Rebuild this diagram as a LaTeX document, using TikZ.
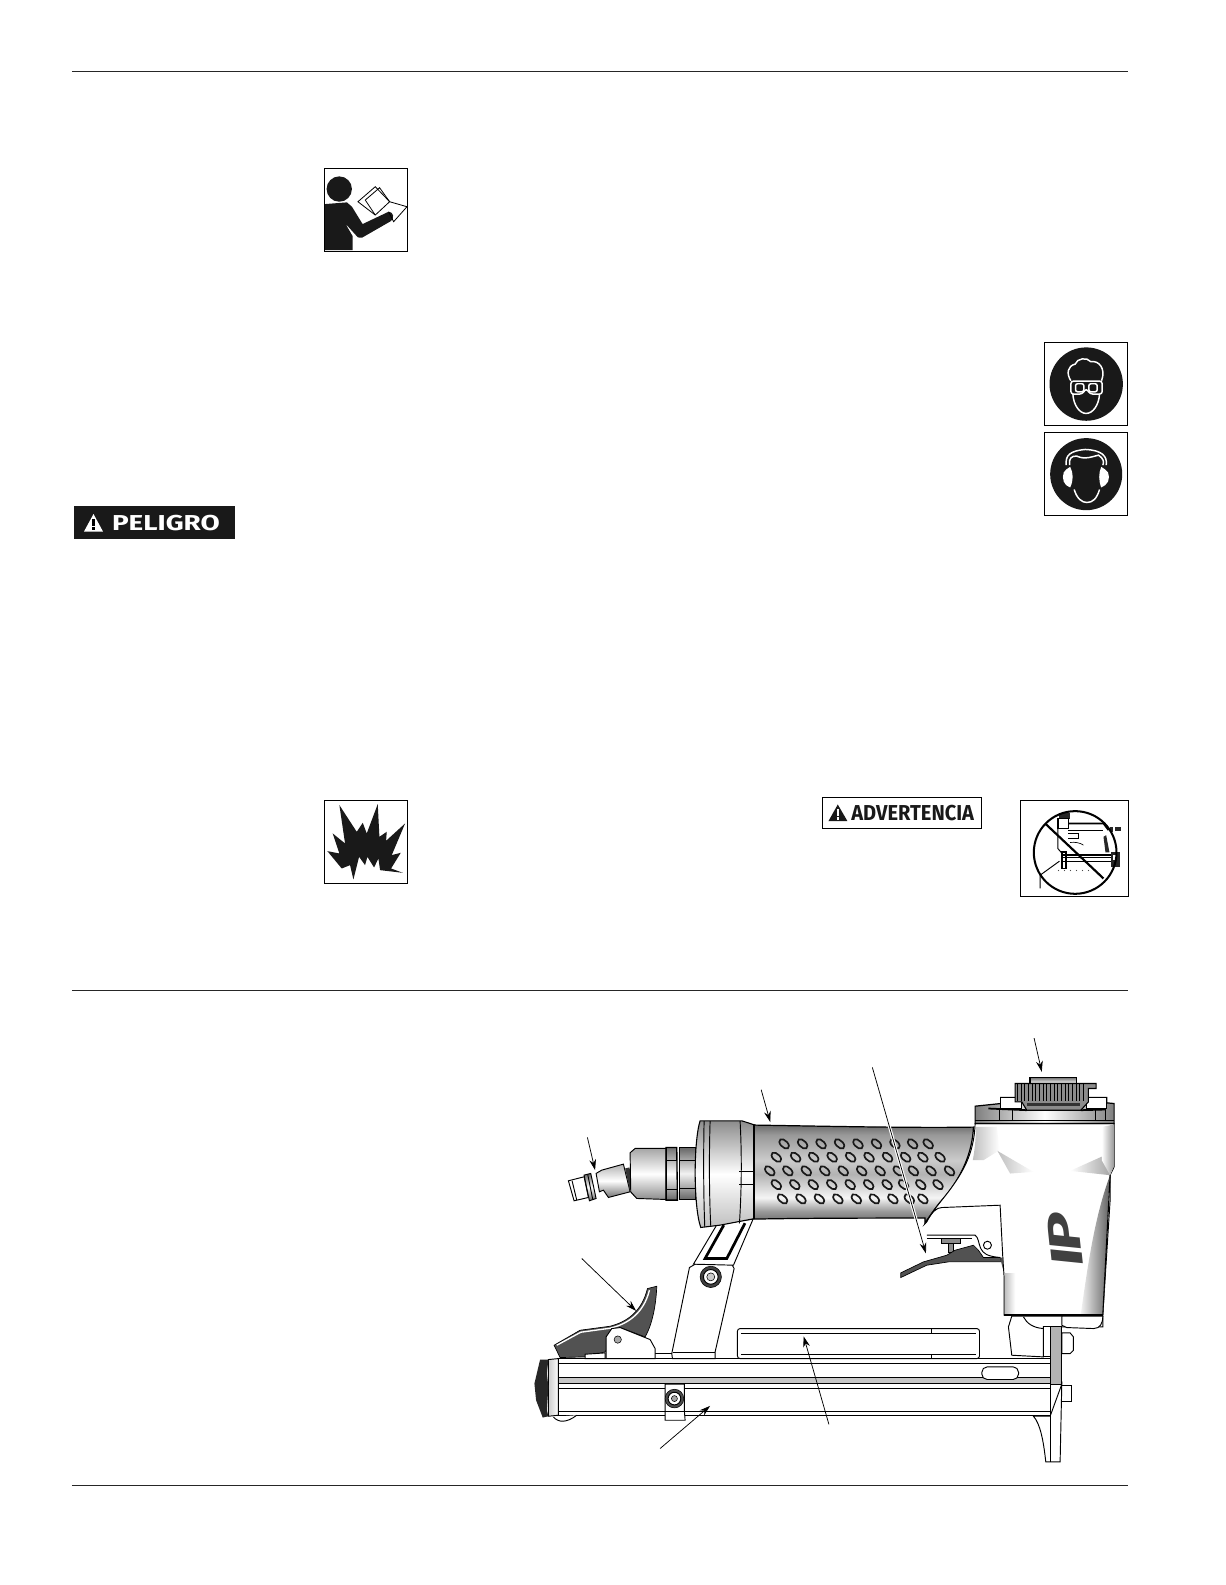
\documentclass[tikz,border=0pt]{standalone}
\usepackage{fontspec}
\setmainfont{Fira Sans}
\usetikzlibrary{arrows.meta}
\pgfdeclareverticalshading{gripshade}{100bp}{
    color(0bp)=(black!60);
    color(25bp)=(black!60);
    color(31bp)=(black!40);
    color(38bp)=(black!4);
    color(50bp)=(black!30);
    color(57bp)=(black!20);
    color(70bp)=(black!40);
    color(75bp)=(black!58);
    color(100bp)=(black!58)
}
\tikzset{
    pageRule/.style={line width=0.7pt, draw=black!85},
    iconBox/.style={draw=black, line width=0.7pt, fill=white},
    iconLine/.style={draw=white, line width=1.1pt},
    cropScale/.style={scale=0.3298},
    leader/.style={-{Stealth[length=8pt,width=5pt]}, line width=0.55pt},
    gunLine/.style={draw=black, line width=0.7pt},
    gunThick/.style={draw=black, line width=1.3pt},
    gunPart/.style={draw=black, line width=0.7pt, fill=white},
    gunDark/.style={draw=black, line width=0.5pt, fill=black!68},
    gripHole/.style={draw=black!90, line width=1.25pt}
}
\begin{document}
\begin{tikzpicture}[x=0.75pt,y=-0.75pt]
\useasboundingbox (0,0) rectangle (1212,1568);
\draw[pageRule] (71,71) -- (1116,71);
\draw[pageRule] (71,980) -- (1116,980);
\draw[pageRule] (71,1470) -- (1116,1470);

% reading icon
\begin{scope}[shift={(59.4,148.4)},scale=0.33]
    \draw[iconBox] (793,55) rectangle (1043,304);
    \fill[black!90] (837,117) circle (38);
    \fill[black!90] (795,162) -- (860,157) -- (875,170) -- (907,222) -- (985,185)
        .. controls (1000,185) and (1003,205) .. (992,213) -- (905,263) -- (893,262)
        -- (855,220) -- (877,258) -- (877,300) -- (795,300) -- cycle;
    \draw[draw=black, line width=0.6pt] (945,195) -- (893,155) -- (945,110) -- (988,155)
        -- (1040,170) -- (1000,215) -- (985,185);
    \draw[draw=black, line width=0.6pt] (945,195) -- (915,150) -- (958,113) -- (988,155) -- (945,195);
\end{scope}

% danger tag
\fill[black!90] (73,501) rectangle (232,533);
\fill[white] (83,526) -- (92.5,508.5) -- (102,526) -- cycle;
\fill[black] (91.5,513) rectangle (93.5,520);
\fill[black] (91.5,521.5) rectangle (93.5,524);
\node[text=white, font=\fontsize{16}{16}\selectfont\bfseries, anchor=west, inner sep=0pt, xscale=1.29, transform shape] (dangerText) at (110.5,517.8) {PELIGRO};

% goggles and ear icons
\begin{scope}[shift={(1019.1,326.5)},scale=0.33]
    \draw[iconBox] (43,37) rectangle (293,287);
    \fill[black!90] (168,162) circle (110);
    \draw[iconLine] (122,152) .. controls (108,130) and (112,108) .. (135,102)
        .. controls (140,85) and (170,80) .. (182,95) .. controls (205,90) and (228,115) .. (214,152);
    \draw[iconLine] (128,192) .. controls (130,225) and (148,250) .. (168,250)
        .. controls (188,250) and (206,225) .. (208,192);
    \draw[iconLine, rounded corners=2pt] (122,153) -- (216,153) -- (216,192) -- (180,192) -- (168,175) -- (156,192) -- (122,192) -- cycle;
    \draw[iconLine, rounded corners=1.5pt] (136,161) rectangle (161,185);
    \draw[iconLine, rounded corners=1.5pt] (176,161) rectangle (201,185);
    \draw[iconBox] (43,307) rectangle (293,557);
    \fill[black!90] (168,432) circle (108);
    \draw[iconLine] (108,405) .. controls (105,375) and (120,362) .. (165,358) .. controls (215,360) and (232,378) .. (228,405);
    \draw[iconLine] (118,405) .. controls (115,385) and (125,376) .. (140,378)
        .. controls (165,390) and (190,378) .. (205,375) .. controls (220,385) and (222,395) .. (218,405);
    \draw[iconLine] (132,478) .. controls (140,505) and (155,517) .. (170,517) .. controls (188,517) and (200,505) .. (208,478);
    \fill[white] (108,418) .. controls (95,425) and (95,455) .. (108,465) -- (120,472)
        .. controls (130,450) and (130,430) .. (120,410) -- cycle;
    \fill[white] (225,418) .. controls (240,425) and (240,455) .. (225,465) -- (213,472)
        .. controls (205,450) and (205,430) .. (213,410) -- cycle;
\end{scope}

% explosion icon
\begin{scope}[shift={(306.7,781.6)},scale=0.33]
    \draw[iconBox] (43,32) rectangle (293,280);
    \fill[black!90] (52,183) -- (88,190) -- (68,130) -- (105,160) -- (88,45) -- (140,125)
        -- (158,98) -- (170,130) -- (203,42) -- (208,140) -- (230,125) -- (228,152)
        -- (285,100) -- (245,195) -- (272,188) -- (243,235) -- (278,248) -- (210,240)
        -- (205,205) -- (192,232) -- (172,200) -- (165,225) -- (147,200) -- (130,268)
        -- (120,225) -- (95,235) -- cycle;
\end{scope}

% warning tag
\begin{scope}[shift={(791.5,776.7)},scale=0.33]
    \draw[iconBox] (67,37) rectangle (545,131);
    \fill[black!90] (85,108) -- (113,58) -- (142,108) -- cycle;
    \fill[white] (110,72) rectangle (116,92);
    \fill[white] (110,96) rectangle (116,104);
\end{scope}
\node[font=\fontsize{16}{16}\selectfont\bfseries, text=black!90, anchor=west, inner sep=0pt, xscale=0.93, transform shape] (warningText) at (842,804.5) {ADVERTENCIA};

% crossed out tool
\begin{scope}[shift={(1009.2,786.6)},cropScale]
    \draw[iconBox] (0,15) rectangle (325,305);
    \fill[black!85] (118,55) rectangle (150,72);
    \draw[gunThick] (113,70) rectangle (145,100);
    \draw[gunLine] (113,100) -- (113,160) -- (130,180);
    \draw[gunThick] (145,85) -- (250,85) -- (265,105);
    \draw[gunLine] (145,105) -- (250,105);
    \fill[black!85] (270,96) rectangle (280,110);
    \fill[black!85] (285,96) rectangle (303,108);
    \draw[gunLine] (145,115) -- (175,115) -- (175,130) -- (145,130);
    \draw[draw=black, line width=0.5pt] (150,142) .. controls (165,140) and (180,143) .. (190,150);
    \fill[black!85] (250,125) -- (258,120) -- (268,172) -- (256,172) -- cycle;
    \draw[gunThick] (130,180) -- (275,180);
    \draw[gunLine] (130,188) -- (275,188) (130,200) -- (275,200);
    \fill[black!85] (272,170) rectangle (300,215);
    \fill[white] (280,180) rectangle (290,195);
    \draw[gunThick] (125,170) rectangle (137,220);
    \draw[gunLine] (60,280) -- (60,240) -- (118,198);
    \foreach \dotx in {115,133,...,205}
        \fill[black!70] (\dotx,226) circle (1.8);
    \draw[draw=black, line width=1.5pt] (165,172) circle (124);
    \draw[draw=black, line width=1.6pt] (75,85) -- (250,250);
\end{scope}

% magazine rail
\draw[gunPart] (552.4,1344) rectangle (1039,1400);
\fill[black!22] (552.4,1363) rectangle (1039,1369);
\draw[gunLine] (552.4,1349) -- (1039,1349);
\draw[gunLine] (552.4,1363) -- (1039,1363);
\draw[gunLine] (552.4,1369) -- (1039,1369);
\draw[gunLine] (552.4,1374) -- (1039,1374);
\draw[gunLine] (552.4,1396) -- (1039,1396);
\draw[gunPart, rounded corners=4pt] (971.3,1352.2) rectangle (1007.6,1364.7);
% staple window
\draw[gunPart, rounded corners=2pt] (729.5,1314.3) rectangle (969,1344);
\draw[gunLine] (733,1319.2) -- (966,1319.2);
\draw[gunLine] (733,1339.7) -- (966,1339.7);
\draw[gunLine] (921.8,1314.3) -- (921.8,1319.2) (921.8,1339.7) -- (921.8,1344);

% latch, bracket and front of rail
\begin{scope}[shift={(524.4,1226.9)},cropScale]
    \shade[left color=black!20, right color=white, draw=black, line width=0.7pt] (55,358) -- (85,355) -- (85,525) -- (55,528) -- cycle;
    \fill[black!85] (30,358) -- (55,358) -- (50,400) -- (55,440) -- (50,510) -- (55,528) -- (38,532)
        -- (18,480) -- (13,430) -- cycle;
    \draw[gunPart] (70,530) .. controls (85,548) and (110,548) .. (140,525);
    \draw[gunPart] (405,432) -- (463,432) -- (463,515) -- (465,540) -- (405,540) -- cycle;
    \draw[gunLine] (405,515) -- (463,515);
    \fill[black!70, draw=black] (433,475) circle (28);
    \draw[gunPart] (433,475) circle (19);
    \fill[black!35, draw=black] (433,475) circle (9);
    \draw[gunPart] (478,82) -- (425,340) -- (427,355) -- (555,355) -- (555,335) -- (612,85) -- (605,72) -- (495,72) -- cycle;
    \draw[gunLine] (428,337) -- (555,337);
    \fill[black!75, draw=black] (542,110) circle (32);
    \draw[gunPart] (542,110) circle (22);
    \fill[black!20, draw=black] (542,110) circle (12);
    \draw[gunLine] (375,340) -- (425,340);
    \draw[gunDark] (72,315) -- (150,270) -- (240,258) .. controls (290,245) and (335,215) .. (352,145)
        -- (380,138) .. controls (378,190) and (368,250) .. (345,290) -- (270,262)
        -- (225,335) -- (165,350) -- (90,352) -- cycle;
    \draw[draw=white, line width=1pt] (80,315) -- (152,276) -- (240,264) .. controls (290,252) and (340,222) .. (358,150);
    \draw[gunPart] (165,342) -- (225,338) -- (225,355) -- (165,355) -- cycle;
    \draw[gunPart] (228,355) -- (228,290) -- (245,265) -- (270,262) -- (360,298) -- (375,325) -- (375,355) -- cycle;
    \fill[black!35, draw=black] (263,298) circle (11);
\end{scope}

% bracket arm
\draw[gunPart] (709.5,1211) -- (686,1250.6) -- (725.6,1251.6) -- (745,1206) -- cycle;
\draw[draw=black, line width=2pt] (716,1212) -- (697.5,1245) -- (719,1245) -- (737,1210);

% air fitting and end cap
\begin{scope}[shift={(554.07,1098.2)},cropScale]
    \draw[gunPart] (25,212) -- (72,200) -- (85,262) -- (42,272) -- cycle;
    \draw[gunLine] (36,212) -- (50,270);
    \shade[top color=black!60, bottom color=black!60, middle color=white, draw=black, line width=0.7pt]
        (72,195) -- (92,190) -- (108,265) -- (88,272) -- cycle;
    \draw[gunLine] (83,193) -- (98,268);
    \shade[top color=black!30, bottom color=black!55, middle color=white, draw=black, line width=0.7pt]
        (108,190) -- (125,180) -- (190,162) -- (210,245) -- (145,262) -- (130,240) -- (118,245) -- cycle;
    \fill[black!80] (195,175) -- (208,172) -- (226,262) -- (210,245) -- cycle;
    \shade[top color=black!35, bottom color=black!45, middle color=white, draw=black, line width=0.7pt]
        (210,128) -- (225,115) -- (318,115) -- (318,268) -- (230,265) -- (212,245) -- cycle;
    \shade[top color=black!55, bottom color=black!60, middle color=white, draw=black, line width=1pt]
        (318,112) -- (350,112) -- (352,270) -- (318,270) -- cycle;
    \draw[gunLine] (318,150) -- (352,150) (318,238) -- (352,238);
    \shade[top color=black!60, bottom color=black!60, middle color=black!5, draw=black, line width=0.7pt]
        (358,112) -- (405,112) -- (405,268) -- (358,268) -- cycle;
    \draw[gunLine] (358,150) -- (405,150) (358,235) -- (405,235);
    \shade[top color=black!45, bottom color=black!25, middle color=white, draw=black, line width=0.8pt]
        (420,32) -- (545,32) -- (585,45) -- (585,325) -- (480,345) -- (422,352)
        .. controls (400,290) and (400,95) .. (420,32) -- cycle;
    \draw[gunLine] (450,33) .. controls (447,130) and (447,250) .. (452,348);
    \draw[gunLine] (432,33) .. controls (430,130) and (430,250) .. (434,350);
    \draw[gunLine] (540,33) .. controls (545,130) and (545,230) .. (538,340);
    \draw[gunLine] (537,183) -- (585,183) (537,222) -- (585,222);
\end{scope}

% grip
\shade[shading=gripshade, draw=black, line width=0.9pt] (746,1113) .. controls (810,1114) and (900,1116) .. (963,1115)
    .. controls (962,1141) and (950,1167) .. (932,1187) .. controls (925,1195) and (920,1203) .. (915,1210)
    -- (915,1205) .. controls (860,1205) and (800,1205) .. (746,1206) -- cycle;
\draw[gunThick] (746,1113) -- (746,1206);
\begin{scope}[shift={(511,1008.85)},xscale=0.406,yscale=0.33]
    \foreach \holey/\holelist in {
        372/{652,697,742,787,832,877,922,965,1003},
        412/{633,680,724,769,814,859,904,948,990,1032},
        453/{617,661,706,751,796,841,886,930,967,1010,1055},
        494/{633,678,723,768,813,858,903,943,985,1027},
        537/{648,693,738,783,828,872,917,957,990}}
        \foreach \holex in \holelist
            \draw[gripHole, rotate around={-55:(\holex,\holey)}] (\holex,\holey) ellipse (16 and 9);
\end{scope}

% head, nose and trigger
\begin{scope}[shift={(949.8,1048.8)},cropScale]
    \draw[gunPart] (305,818) -- (330,818) -- (340,830) -- (340,870) -- (330,880) -- (305,880) -- cycle;
    \draw[gunPart] (305,975) -- (335,975) -- (335,1025) -- (305,1025) -- cycle;
    \draw[gunPart] (220,1068) -- (255,1068) -- (270,1068) -- (305,972) -- (300,1205) -- (257,1205)
        .. controls (250,1140) and (240,1090) .. (220,1068) -- cycle;
    \draw[gunLine] (270,972) -- (270,1205);
    \draw[gunPart] (155,768) -- (145,800) -- (155,885) -- (250,890) -- (250,800) -- (428,800) -- (428,768) -- cycle;
    \draw[gunLine] (190,770) .. controls (200,790) and (220,803) .. (250,805);
    \draw[gunPart] (250,800) rectangle (270,890);
    \fill[black!30, draw=black, line width=0.7pt] (270,800) rectangle (305,972);
    \draw[gunPart] (305,795) -- (320,802) -- (400,805) .. controls (420,805) and (428,790) .. (428,768) -- (305,768) -- cycle;
    \draw[gunPart] (45,190) .. controls (42,280) and (10,340) .. (-55,420) .. controls (-75,445) and (-90,465) .. (-105,490)
        -- (-100,485) .. controls (-85,455) and (-70,442) .. (-55,442) -- (120,435) -- (128,590) -- (132,650)
        -- (132,765) -- (428,765) -- (450,420) -- (450,345) -- (462,320) -- (462,190) -- cycle;
    \shade[left color=black!25, right color=white] (48,200) -- (110,200) -- (118,270) -- (70,300) -- (38,300)
        .. controls (44,270) and (47,235) .. (48,200) -- cycle;
    \shade[left color=black!25, right color=white] (112,272) -- (220,335) -- (150,340) -- cycle;
    \shade[left color=white, right color=black!35] (330,332) -- (450,278) -- (450,345) -- cycle;
    \shade[left color=white, right color=black!40] (425,200) -- (461,193) -- (461,320) -- (450,345) -- (425,300) -- cycle;
    \shade[left color=black!5, right color=black!62] (448,350) -- (430,762) -- (362,762)
        .. controls (380,640) and (400,480) .. (448,350) -- cycle;
    \shade[left color=black!25, right color=white] (134,640) -- (165,640) -- (165,762) -- (134,762) -- cycle;
    \draw[gunThick] (132,765) -- (428,765);
    \draw[draw=black, line width=0.8pt] (450,345) -- (428,765);
    % trigger
    \draw[gunLine] (-100,525) -- (45,525) .. controls (55,530) and (55,550) .. (62,565) .. controls (70,580) and (80,588) .. (120,592);
    \draw[gunLine] (-100,535) -- (35,535);
    \fill[black!45, draw=black, line width=0.5pt] (-55,535) rectangle (0,550);
    \fill[black!45, draw=black, line width=0.5pt] (-35,550) rectangle (-20,575);
    \draw[gunDark] (-178,652) -- (-178,638) -- (-110,605) -- (-40,585) -- (-15,570) -- (40,555) -- (55,570) -- (70,592)
        -- (120,592) -- (125,605) -- (-35,605) -- (-100,615) -- cycle;
    \draw[gunPart] (82,555) circle (12);
    \fill[black!70] (120,592) -- (130,592) -- (128,625) -- cycle;
    % head cap
    \shade[left color=black!50, right color=black!50, middle color=white, draw=black, line width=0.9pt]
        (45,138) -- (122,130) -- (122,112) -- (183,112) -- (190,128) -- (200,150) -- (362,150) -- (378,125)
        -- (385,112) -- (440,112) -- (440,128) -- (462,130) -- (462,190) -- (45,190) -- cycle;
    \draw[gunLine] (118,150) -- (118,182) (158,150) -- (158,182) (405,150) -- (405,182) (437,150) -- (437,182);
    \draw[gunLine] (45,182) -- (462,182);
    \draw[gunThick] (85,145) -- (200,150) (362,150) -- (437,148);
    \draw[gunPart] (122,112) rectangle (183,146);
    \draw[gunPart] (380,112) rectangle (440,146);
    \shade[top color=black!55, bottom color=white, draw=black, line width=1pt] (210,52) rectangle (350,70);
    \fill[black!45, draw=black, line width=0.8pt] (165,70) -- (408,70) -- (408,85) -- (385,85) -- (385,125) -- (362,150) -- (200,150) -- (185,125) -- (165,125) -- cycle;
    \foreach \toothx in {172,183,...,380}
        \draw[draw=black, line width=0.8pt] (\toothx,72) -- (\toothx,122);
    \fill[black!80] (200,128) rectangle (360,136);
\end{scope}
\node[font=\fontsize{33}{33}\selectfont\bfseries\itshape, text=black!75, rotate=96, xscale=1.5, transform shape, inner sep=0pt] (logoText) at (1053.7,1226.9) {I\kern-2pt P};

% leaders
\coordinate (capTail) at (1023,1027);
\coordinate (capTip) at (1030.6,1060.3);
\coordinate (triggerTail) at (863,1056);
\coordinate (triggerTip) at (916,1240);
\coordinate (gripTail) at (753,1078);
\coordinate (gripTip) at (762,1110);
\coordinate (plugTail) at (581.1,1125.2);
\coordinate (plugTip) at (588.7,1157.6);
\coordinate (latchTail) at (575.5,1245);
\coordinate (latchTip) at (629.3,1296.8);
\coordinate (railTail) at (653,1433);
\coordinate (railTip) at (702.5,1390.8);
\coordinate (windowTail) at (820,1409);
\coordinate (windowTip) at (795,1322);
\draw[leader] (capTail) -- (capTip);
\draw[draw=white, line width=2.2pt, shorten >=6pt] (triggerTail) -- (triggerTip);
\draw[leader] (triggerTail) -- (triggerTip);
\draw[leader] (gripTail) -- (gripTip);
\draw[leader] (plugTail) -- (plugTip);
\draw[leader] (latchTail) -- (latchTip);
\draw[leader] (railTail) -- (railTip);
\draw[leader] (windowTail) -- (windowTip);
\end{tikzpicture}
\end{document}
